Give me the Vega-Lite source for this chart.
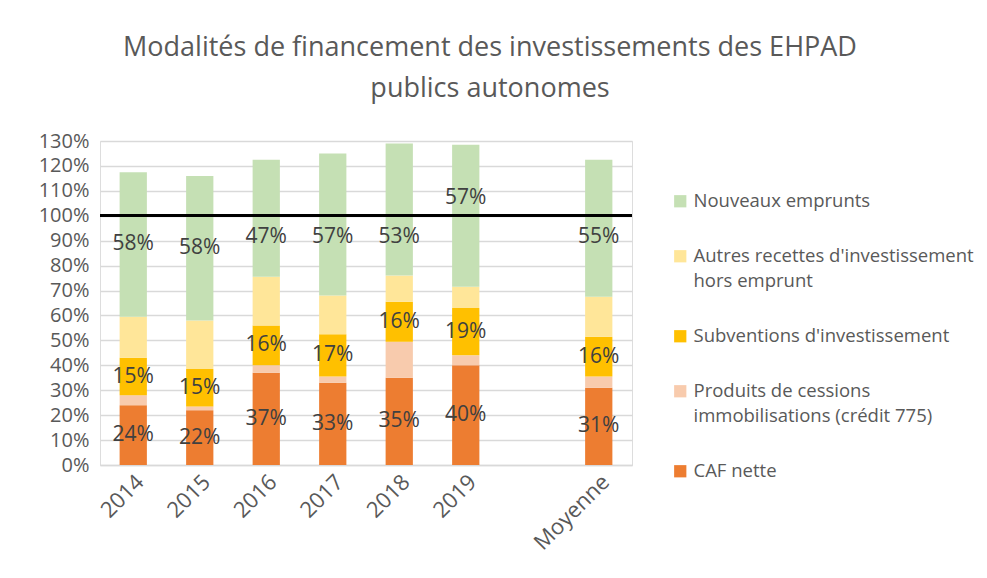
{
  "$schema": "https://vega.github.io/schema/vega-lite/v6.json",
  "width": 532,
  "height": 324,
  "autosize": {"type": "none"},
  "padding": {"left": 100, "top": 141, "right": 355, "bottom": 113},
  "background": "white",
  "title": {
    "text": ["Modalités de financement des investissements des EHPAD", "publics autonomes"],
    "anchor": "middle",
    "frame": "group",
    "dx": 124,
    "fontSize": 27,
    "font": "Open Sans",
    "fontWeight": "normal",
    "color": "#595959",
    "lineHeight": 41,
    "offset": 28
  },
  "data": {
    "values": [
      {"annee": "2014", "serie": "CAF nette", "valeur": 0.24},
      {"annee": "2014", "serie": "Produits de cessions immobilisations (crédit 775)", "valeur": 0.04},
      {"annee": "2014", "serie": "Subventions d'investissement", "valeur": 0.15},
      {"annee": "2014", "serie": "Autres recettes d'investissement hors emprunt", "valeur": 0.165},
      {"annee": "2014", "serie": "Nouveaux emprunts", "valeur": 0.58},
      {"annee": "2015", "serie": "CAF nette", "valeur": 0.22},
      {"annee": "2015", "serie": "Produits de cessions immobilisations (crédit 775)", "valeur": 0.015},
      {"annee": "2015", "serie": "Subventions d'investissement", "valeur": 0.15},
      {"annee": "2015", "serie": "Autres recettes d'investissement hors emprunt", "valeur": 0.195},
      {"annee": "2015", "serie": "Nouveaux emprunts", "valeur": 0.58},
      {"annee": "2016", "serie": "CAF nette", "valeur": 0.37},
      {"annee": "2016", "serie": "Produits de cessions immobilisations (crédit 775)", "valeur": 0.03},
      {"annee": "2016", "serie": "Subventions d'investissement", "valeur": 0.16},
      {"annee": "2016", "serie": "Autres recettes d'investissement hors emprunt", "valeur": 0.195},
      {"annee": "2016", "serie": "Nouveaux emprunts", "valeur": 0.47},
      {"annee": "2017", "serie": "CAF nette", "valeur": 0.33},
      {"annee": "2017", "serie": "Produits de cessions immobilisations (crédit 775)", "valeur": 0.025},
      {"annee": "2017", "serie": "Subventions d'investissement", "valeur": 0.17},
      {"annee": "2017", "serie": "Autres recettes d'investissement hors emprunt", "valeur": 0.155},
      {"annee": "2017", "serie": "Nouveaux emprunts", "valeur": 0.57},
      {"annee": "2018", "serie": "CAF nette", "valeur": 0.35},
      {"annee": "2018", "serie": "Produits de cessions immobilisations (crédit 775)", "valeur": 0.145},
      {"annee": "2018", "serie": "Subventions d'investissement", "valeur": 0.16},
      {"annee": "2018", "serie": "Autres recettes d'investissement hors emprunt", "valeur": 0.105},
      {"annee": "2018", "serie": "Nouveaux emprunts", "valeur": 0.53},
      {"annee": "2019", "serie": "CAF nette", "valeur": 0.40},
      {"annee": "2019", "serie": "Produits de cessions immobilisations (crédit 775)", "valeur": 0.04},
      {"annee": "2019", "serie": "Subventions d'investissement", "valeur": 0.19},
      {"annee": "2019", "serie": "Autres recettes d'investissement hors emprunt", "valeur": 0.085},
      {"annee": "2019", "serie": "Nouveaux emprunts", "valeur": 0.57},
      {"annee": "Moyenne", "serie": "CAF nette", "valeur": 0.31},
      {"annee": "Moyenne", "serie": "Produits de cessions immobilisations (crédit 775)", "valeur": 0.045},
      {"annee": "Moyenne", "serie": "Subventions d'investissement", "valeur": 0.16},
      {"annee": "Moyenne", "serie": "Autres recettes d'investissement hors emprunt", "valeur": 0.16},
      {"annee": "Moyenne", "serie": "Nouveaux emprunts", "valeur": 0.55}
    ]
  },
  "transform": [
    {"calculate": "indexof(['CAF nette', 'Produits de cessions immobilisations (crédit 775)', \"Subventions d'investissement\", \"Autres recettes d'investissement hors emprunt\", 'Nouveaux emprunts'], datum.serie)", "as": "ordre"},
    {"stack": "valeur", "groupby": ["annee"], "sort": [{"field": "ordre", "order": "ascending"}], "as": ["y0", "y1"]},
    {"calculate": "datum.serie == 'Nouveaux emprunts' ? (datum.annee == '2019' ? 1.07 : min((datum.y0 + datum.y1) / 2, 0.915)) : (datum.y0 + datum.y1) / 2", "as": "ymid"}
  ],
  "layer": [
    {
      "mark": {"type": "bar"},
      "encoding": {
        "x": {
          "field": "annee",
          "type": "nominal",
          "scale": {"domain": ["2014", "2015", "2016", "2017", "2018", "2019", " ", "Moyenne"], "paddingInner": 0.59, "paddingOuter": 0.295},
          "axis": {
            "title": null,
            "labelAngle": -45,
            "labelFont": "Open Sans",
            "labelFontSize": 22,
            "labelColor": "#595959",
            "labelPadding": 6,
            "labelOverlap": false,
            "domainColor": "#d9d9d9",
            "domainWidth": 1.5,
            "ticks": false,
            "grid": false
          }
        },
        "y": {
          "field": "y0",
          "type": "quantitative",
          "scale": {"domain": [0, 1.3], "nice": false},
          "axis": {
            "title": null,
            "format": ".0%",
            "values": [0, 0.1, 0.2, 0.3, 0.4, 0.5, 0.6, 0.7, 0.8, 0.9, 1.0, 1.1, 1.2, 1.3],
            "labelFont": "Open Sans",
            "labelFontSize": 20,
            "labelColor": "#595959",
            "labelPadding": 11,
            "labelOverlap": false,
            "labelBound": false,
            "domain": false,
            "ticks": false,
            "gridColor": "#d9d9d9",
            "gridWidth": 1.5
          }
        },
        "y2": {"field": "y1"},
        "color": {
          "field": "serie",
          "type": "nominal",
          "scale": {
            "domain": ["Nouveaux emprunts", "Autres recettes d'investissement hors emprunt", "Subventions d'investissement", "Produits de cessions immobilisations (crédit 775)", "CAF nette"],
            "range": ["#C5E0B4", "#FFE699", "#FFC000", "#F8CBAD", "#ED7D31"]
          },
          "legend": {
            "title": null,
            "orient": "none",
            "legendX": 571,
            "legendY": 51,
            "symbolType": "square",
            "symbolSize": 150,
            "symbolStrokeWidth": 0,
            "labelFont": "Open Sans",
            "labelFontSize": 18.5,
            "labelOffset": 4,
            "labelColor": "#595959",
            "labelLimit": 400,
            "rowPadding": 36,
            "labelExpr": "datum.label == \"Autres recettes d'investissement hors emprunt\" ? [\"Autres recettes d'investissement\", 'hors emprunt'] : datum.label == 'Produits de cessions immobilisations (crédit 775)' ? ['Produits de cessions', 'immobilisations (crédit 775)'] : datum.label",
            "encode": {"labels": {"update": {"lineHeight": {"value": 25}}}}
          }
        }
      }
    },
    {
      "mark": {"type": "rule", "color": "#000000", "strokeWidth": 2},
      "encoding": {
        "y": {
          "datum": 1.0,
          "type": "quantitative",
          "axis": {
            "title": null,
            "format": ".0%",
            "values": [0, 0.1, 0.2, 0.3, 0.4, 0.5, 0.6, 0.7, 0.8, 0.9, 1.0, 1.1, 1.2, 1.3],
            "labelFont": "Open Sans",
            "labelFontSize": 20,
            "labelColor": "#595959",
            "labelPadding": 11,
            "labelOverlap": false,
            "labelBound": false,
            "domain": false,
            "ticks": false,
            "gridColor": "#d9d9d9",
            "gridWidth": 1.5
          }
        }
      }
    },
    {
      "transform": [{"filter": "datum.serie == 'CAF nette' || datum.serie == \"Subventions d'investissement\" || datum.serie == 'Nouveaux emprunts'"}],
      "mark": {"type": "text", "font": "Open Sans", "fontSize": 21, "color": "#404040", "baseline": "middle"},
      "encoding": {
        "x": {"field": "annee", "type": "nominal"},
        "y": {
          "field": "ymid",
          "type": "quantitative",
          "axis": {
            "title": null,
            "format": ".0%",
            "values": [0, 0.1, 0.2, 0.3, 0.4, 0.5, 0.6, 0.7, 0.8, 0.9, 1.0, 1.1, 1.2, 1.3],
            "labelFont": "Open Sans",
            "labelFontSize": 20,
            "labelColor": "#595959",
            "labelPadding": 11,
            "labelOverlap": false,
            "labelBound": false,
            "domain": false,
            "ticks": false,
            "gridColor": "#d9d9d9",
            "gridWidth": 1.5
          }
        },
        "text": {"field": "valeur", "type": "quantitative", "format": ".0%"}
      }
    }
  ]
}
